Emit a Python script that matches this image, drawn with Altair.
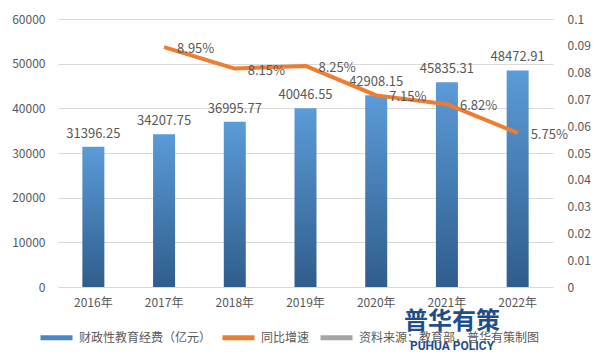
import altair as alt
import pandas as pd

years = ["2016年", "2017年", "2018年", "2019年", "2020年", "2021年", "2022年"]
spending = [31396.25, 34207.75, 36995.77, 40046.55, 42908.15, 45835.31, 48472.91]
growth = [None, 0.0895, 0.0815, 0.0825, 0.0715, 0.0682, 0.0575]
series_names = ["财政性教育经费（亿元）", "同比增速", "资料来源：教育部，普华有策制图"]
series_colors = ["#4A86C5", "#ED7D31", "#A5A5A5"]
left_ticks = [0, 10000, 20000, 30000, 40000, 50000, 60000]
right_ticks = [0, 0.01, 0.02, 0.03, 0.04, 0.05, 0.06, 0.07, 0.08, 0.09, 0.1]

FONT = "Noto Sans CJK SC"
TXT = "#595959"

bars_df = pd.DataFrame({"year": years, "value": spending, "series": series_names[0]})
line_df = pd.DataFrame({"year": years, "rate": growth, "series": series_names[1]}).dropna()

xenc = alt.X("year:N", sort=years, title=None,
             scale=alt.Scale(paddingInner=0, paddingOuter=0),
             axis=alt.Axis(labelAngle=0, ticks=False, domain=False, labelPadding=10,
                           labelFontSize=12, labelColor=TXT, labelFont=FONT))

yleft = alt.Y("value:Q", title=None, scale=alt.Scale(domain=[0, 60000]),
              axis=alt.Axis(orient="left", values=left_ticks, format="d", grid=True,
                            gridColor="#D9D9D9", domain=False, ticks=False,
                            labelPadding=13, labelFontSize=12, labelColor=TXT, labelFont=FONT))

gradient = alt.Gradient(gradient="linear", x1=0, x2=0, y1=0, y2=1,
                        stops=[alt.GradientStop(offset=0, color="#5B9BD8"),
                               alt.GradientStop(offset=1, color="#2F5D8C")])

bars = alt.Chart(bars_df).mark_bar(size=22, color=gradient).encode(x=xenc, y=yleft)
bar_text = alt.Chart(bars_df).mark_text(baseline="bottom", dy=-6, fontSize=13, color=TXT, font=FONT).encode(
    x=xenc, y=yleft, text=alt.Text("value:Q", format=".2f"))
left = alt.layer(bars, bar_text)

yright = alt.Y("rate:Q", title=None, scale=alt.Scale(domain=[0, 0.1]),
               axis=alt.Axis(orient="right", values=right_ticks, format="~g", grid=False,
                             domain=False, ticks=False, labelPadding=14, labelFontSize=12,
                             labelColor=TXT, labelFont=FONT))

color = alt.Color("series:N", scale=alt.Scale(domain=series_names, range=series_colors),
                  legend=alt.Legend(orient="none", legendX=-20, legendY=300, direction="horizontal",
                                    title=None, symbolType="stroke", symbolSize=1024,
                                    symbolStrokeWidth=5, labelFontSize=12, labelColor=TXT,
                                    labelFont=FONT, columnPadding=0, labelOffset=4,
                                    labelLimit=400))

line = alt.Chart(line_df).mark_line(strokeWidth=4, strokeJoin="round").encode(
    x=xenc, y=yright, color=color)
line_text = alt.Chart(line_df).mark_text(align="left", baseline="middle", dx=13, dy=2,
                                         fontSize=13, color=TXT, font=FONT).encode(
    x=xenc, y=yright, text=alt.Text("rate:Q", format=".2%"))
right = alt.layer(line, line_text)

wm_df = pd.DataFrame({"t1": ["普华有策"], "t2": ["PUHUA POLICY"]})
wm1 = alt.Chart(wm_df).mark_text(fontSize=24, fontWeight="bold", color="#1F4E8C", font=FONT).encode(
    x=alt.value(394), y=alt.value(303), text="t1:N")
wm2 = alt.Chart(wm_df).mark_text(fontSize=12, fontWeight="bold", color="#1F4E8C", font="Roboto").encode(
    x=alt.value(394), y=alt.value(327), text="t2:N")

chart = alt.layer(left, right, wm1, wm2).resolve_scale(y="independent").properties(
    width=495, height=268,
    padding={"left": 50, "top": 11, "right": 40, "bottom": 72},
    autosize=alt.AutoSizeParams(type="none"),
).configure_view(stroke=None)

chart.save("out.html", embed_options={"renderer": "svg", "actions": False})
